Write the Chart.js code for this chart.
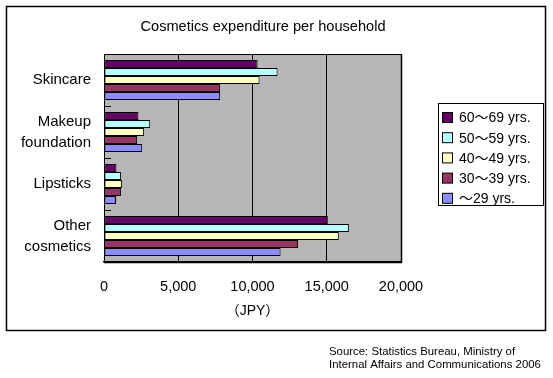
<!DOCTYPE html>
<html>
<head>
<meta charset="utf-8">
<script src="https://cdn.jsdelivr.net/npm/chart.js@4/dist/chart.umd.min.js"></script>
<style>
html,body{margin:0;padding:0;background:#fff;}
#wrap{width:553px;height:378px;position:relative;}
</style>
</head>
<body>
<div id="wrap"><canvas id="c" width="553" height="378"></canvas></div>
<script>
const categories = ['Skincare', ['Makeup', 'foundation'], 'Lipsticks', ['Other', 'cosmetics']];
const seriesNames = ['60～69 yrs.', '50～59 yrs.', '40～49 yrs.', '30～39 yrs.', '～29 yrs.'];
const age60to69 = [10340, 2320, 840, 15070];
const age50to59 = [11690, 3110, 1150, 16490];
const age40to49 = [10470, 2700, 1220, 15810];
const age30to39 = [7820, 2230, 1150, 13070];
const ageTo29 = [7820, 2570, 810, 11890];
const xTicks = [0, 5000, 10000, 15000, 20000];
const seriesColors = ['#660066', '#b4ffff', '#ffffc0', '#993366', '#8c8cff'];

const FONT = '"Liberation Sans", "Noto Sans CJK JP", Arial, sans-serif';
const values = [age60to69, age50to59, age40to49, age30to39, ageTo29];

const decor = {
  id: 'decor',
  beforeDraw(chart) {
    const ctx = chart.ctx, a = chart.chartArea;
    ctx.save();
    ctx.fillStyle = '#fff';
    ctx.fillRect(0, 0, chart.width, chart.height);
    ctx.fillStyle = '#b6b6b6';
    ctx.fillRect(a.left, a.top, a.right - a.left, a.bottom - a.top);
    ctx.restore();
  },
  afterDraw(chart) {
    const ctx = chart.ctx, a = chart.chartArea;
    ctx.save();
    ctx.strokeStyle = '#000';
    ctx.lineWidth = 1;
    ctx.beginPath();
    ctx.moveTo(a.left + 0.5, a.top + 0.5);
    ctx.lineTo(a.right + 0.5, a.top + 0.5);
    ctx.stroke();
    ctx.lineWidth = 1.5;
    ctx.beginPath();
    ctx.moveTo(a.right + 0.5, a.top);
    ctx.lineTo(a.right + 0.5, a.bottom + 0.5);
    ctx.lineTo(a.left, a.bottom + 0.5);
    ctx.stroke();
    const ys = chart.scales.y;
    ctx.lineWidth = 1;
    for (let i = 1; i < categories.length; i++) {
      const yy = Math.round((ys.getPixelForTick(i - 1) + ys.getPixelForTick(i)) / 2) + 0.5;
      ctx.beginPath();
      ctx.moveTo(a.left, yy);
      ctx.lineTo(a.left + 7, yy);
      ctx.stroke();
    }
    ctx.lineWidth = 1.5;
    ctx.strokeRect(6.5, 6.5, 539, 324);
    ctx.fillStyle = '#000';
    ctx.font = '14.6px ' + FONT;
    ctx.textAlign = 'center';
    ctx.textBaseline = 'middle';
    ctx.fillText('Cosmetics expenditure per household', 263, 27);
    ctx.lineWidth = 1;
    ctx.strokeRect(438.5, 103.5, 105, 102);
    ctx.font = '14px ' + FONT;
    ctx.textAlign = 'left';
    chart.data.datasets.forEach((ds, i) => {
      const cy = 117.5 + i * 20.2;
      ctx.fillStyle = ds.backgroundColor;
      ctx.fillRect(442.5, cy - 5, 10, 10);
      ctx.strokeStyle = '#000';
      ctx.strokeRect(442.5, cy - 5, 10, 10);
      ctx.fillStyle = '#000';
      ctx.fillText(ds.label, 459, cy + 1);
    });
    ctx.font = '11.4px ' + FONT;
    ctx.fillText('Source: Statistics Bureau, Ministry of', 329, 352);
    ctx.fillText('Internal Affairs and Communications 2006', 329, 365);
    ctx.restore();
  }
};

new Chart(document.getElementById('c'), {
  type: 'bar',
  data: {
    labels: categories,
    datasets: seriesNames.map((n, i) => ({
      label: n,
      data: values[i],
      backgroundColor: seriesColors[i],
      borderColor: '#000',
      borderWidth: 1,
      borderSkipped: false,
      barPercentage: 1,
      categoryPercentage: 0.77
    }))
  },
  options: {
    indexAxis: 'y',
    responsive: false,
    animation: false,
    devicePixelRatio: 1,
    layout: { padding: { left: 0, top: 54, right: 152, bottom: 58 } },
    plugins: { legend: { display: false }, tooltip: { enabled: false }, title: { display: false } },
    scales: {
      x: {
        min: 0, max: 20000,
        afterBuildTicks(s) { s.ticks = xTicks.map(v => ({ value: v })); },
        afterFit(s) { s.height = 58; },
        grid: { color: '#000', lineWidth: 1, drawTicks: false },
        border: { display: true, color: '#000', width: 1.5 },
        ticks: {
          padding: 16,
          color: '#000',
          font: { family: FONT, size: 14.5 },
          maxRotation: 0,
          callback: v => v.toLocaleString('en-US')
        },
        title: {
          display: true, text: '（JPY）', color: '#000',
          font: { family: FONT, size: 14 },
          padding: { top: 0, bottom: 0 }
        }
      },
      y: {
        afterFit(s) { s.width = 104; },
        grid: { display: false, drawTicks: false },
        border: { display: true, color: '#000', width: 1 },
        ticks: {
          padding: 13,
          color: '#000',
          font: { family: FONT, size: 15, lineHeight: 1.4 }
        }
      }
    }
  },
  plugins: [decor]
});
</script>
</body>
</html>
